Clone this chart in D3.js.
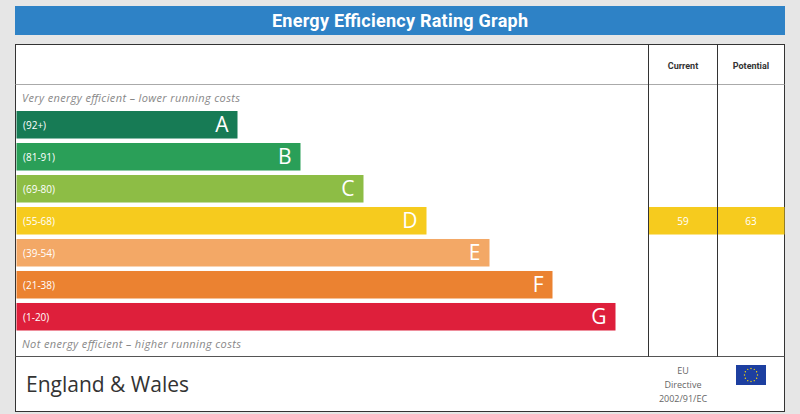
<!DOCTYPE html>
<html>
<head>
<meta charset="utf-8">
<script src="https://cdn.jsdelivr.net/npm/d3@7"></script>
<style>
  body { margin: 0; background: #e6e6e6; }
  svg { display: block; }
</style>
</head>
<body>
<div id="chart"></div>
<script>
const width = 800;
const height = 414;

// data
const bands = ["A", "B", "C", "D", "E", "F", "G"];
const ranges = ["(92+)", "(81-91)", "(69-80)", "(55-68)", "(39-54)", "(21-38)", "(1-20)"];
const bandColors = ["#177b55", "#2a9f58", "#8dbd45", "#f6cb1e", "#f3a866", "#eb8231", "#de1f3b"];
const barSteps = [1, 2, 3, 4, 5, 6, 7];
const columns = ["Current", "Potential"];
const ratings = [59, 63];
const ratingBand = "D";
const title = "Energy Efficiency Rating Graph";
const topNote = "Very energy efficient \u2013 lower running costs";
const bottomNote = "Not energy efficient \u2013 higher running costs";
const region = "England & Wales";
const directive = ["EU", "Directive", "2002/91/EC"];

const frame = { left: 15.5, right: 784.5, top: 44.5, bottom: 411.5, header: 84.5, footer: 356.5 };
const colX = [648.5, 717.5, 784.5];

const svg = d3.select("#chart")
  .append("svg")
  .attr("width", width)
  .attr("height", height);

svg.append("rect")
  .attr("width", width)
  .attr("height", height)
  .attr("fill", "#e6e6e6");

// title bar
svg.append("rect")
  .attr("x", 15)
  .attr("y", 6)
  .attr("width", 770)
  .attr("height", 29)
  .attr("fill", "#2e82c6");

svg.append("text")
  .attr("x", 400)
  .attr("y", 27)
  .attr("text-anchor", "middle")
  .style("font-family", "Roboto, sans-serif")
  .style("font-weight", "bold")
  .style("font-size", "18px")
  .attr("fill", "#fff")
  .attr("textLength", 256)
  .text(title);

// frame
svg.append("rect")
  .attr("x", frame.left)
  .attr("y", frame.top)
  .attr("width", frame.right - frame.left)
  .attr("height", frame.bottom - frame.top)
  .attr("fill", "#fff")
  .attr("stroke", "#333")
  .attr("stroke-width", 1);

const yScale = d3.scaleBand()
  .domain(bands)
  .range([111, 111 + 32 * 7 - 4.5])
  .paddingInner(0.14)
  .paddingOuter(0);

const xScale = d3.scaleLinear()
  .domain([0, 7])
  .range([158, 599]);

// rating band across columns
const ratingG = svg.append("g");
columns.forEach((c, i) => {
  ratingG.append("rect")
    .attr("x", colX[i])
    .attr("y", yScale(ratingBand))
    .attr("width", colX[i + 1] - colX[i])
    .attr("height", yScale.bandwidth())
    .attr("fill", bandColors[bands.indexOf(ratingBand)]);
  ratingG.append("text")
    .attr("x", (colX[i] + colX[i + 1]) / 2)
    .attr("y", yScale(ratingBand) + yScale.bandwidth() / 2 + 4)
    .attr("text-anchor", "middle")
    .style("font-family", "'Open Sans', sans-serif")
    .style("font-size", "10px")
    .attr("fill", "#fff")
    .text(ratings[i]);
});

// grid lines
svg.append("line")
  .attr("x1", frame.left).attr("x2", frame.right)
  .attr("y1", frame.header).attr("y2", frame.header)
  .attr("stroke", "#aaa");
svg.append("line")
  .attr("x1", frame.left).attr("x2", frame.right)
  .attr("y1", frame.footer).attr("y2", frame.footer)
  .attr("stroke", "#555");
colX.slice(0, 2).forEach(x => {
  svg.append("line")
    .attr("x1", x).attr("x2", x)
    .attr("y1", frame.top).attr("y2", frame.footer)
    .attr("stroke", "#333");
});

columns.forEach((c, i) => {
  svg.append("text")
    .attr("x", (colX[i] + colX[i + 1]) / 2)
    .attr("y", 69)
    .attr("text-anchor", "middle")
    .style("font-family", "Roboto, sans-serif")
    .style("font-weight", "bold")
    .style("font-size", "9px")
    .attr("fill", "#333")
    .text(c);
});

// notes
svg.append("text")
  .attr("x", 22)
  .attr("y", 102)
  .style("font-family", "'Open Sans', sans-serif")
  .style("font-style", "italic")
  .style("font-size", "11px")
  .attr("textLength", 218)
  .attr("fill", "#888")
  .text(topNote);

svg.append("text")
  .attr("x", 22)
  .attr("y", 348)
  .style("font-family", "'Open Sans', sans-serif")
  .style("font-style", "italic")
  .style("font-size", "11px")
  .attr("textLength", 219)
  .attr("fill", "#888")
  .text(bottomNote);

// bars
const rows = svg.selectAll("g.band")
  .data(bands)
  .enter()
  .append("g")
  .attr("class", "band");

rows.append("rect")
  .attr("x", 16.5)
  .attr("y", d => yScale(d))
  .attr("width", (d, i) => xScale(barSteps[i]) - 8 + 8)
  .attr("height", yScale.bandwidth())
  .attr("fill", (d, i) => bandColors[i]);

rows.append("text")
  .attr("x", 23)
  .attr("y", d => yScale(d) + yScale.bandwidth() / 2 + 4)
  .style("font-family", "'Open Sans', sans-serif")
  .style("font-size", "10px")
  .attr("fill", "#fff")
  .text((d, i) => ranges[i]);

rows.append("text")
  .attr("x", (d, i) => 16.5 + xScale(barSteps[i]) - 9)
  .attr("y", d => yScale(d) + yScale.bandwidth() / 2 + 7.5)
  .attr("text-anchor", "end")
  .style("font-family", "'Open Sans', sans-serif")
  .style("font-size", "21px")
  .attr("fill", "#fff")
  .text(d => d);

// footer
svg.append("text")
  .attr("x", 26)
  .attr("y", 392)
  .style("font-family", "'Open Sans', sans-serif")
  .style("font-size", "21px")
  .attr("fill", "#333")
  .text(region);

directive.forEach((t, i) => {
  svg.append("text")
    .attr("x", 683)
    .attr("y", 373.5 + i * 14.2)
    .attr("text-anchor", "middle")
    .style("font-family", "'Open Sans', sans-serif")
    .style("font-size", "9px")
    .attr("fill", "#666")
    .text(t);
});

// EU flag
const flag = svg.append("g").attr("transform", "translate(736,365)");
flag.append("rect")
  .attr("width", 30)
  .attr("height", 20)
  .attr("fill", "#1d3fa0");
d3.range(12).forEach(k => {
  const a = k / 12 * 2 * Math.PI;
  flag.append("circle")
    .attr("cx", 15 + 6.5 * Math.cos(a))
    .attr("cy", 10 + 6.5 * Math.sin(a))
    .attr("r", 0.7)
    .attr("fill", "#ffdd00");
});
</script>
</body>
</html>
